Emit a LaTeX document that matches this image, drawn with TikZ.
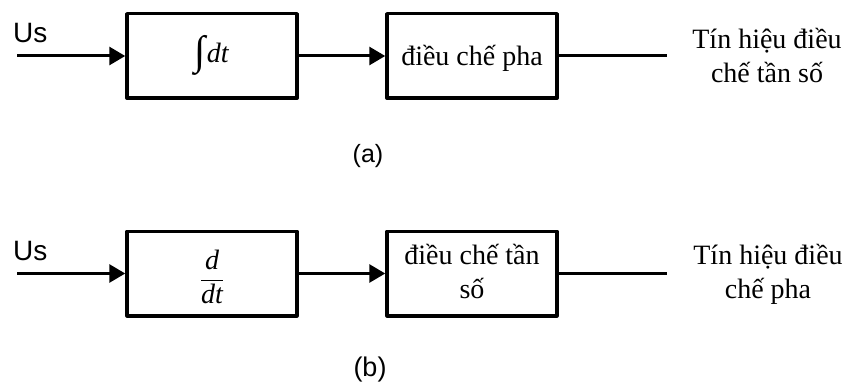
\documentclass[tikz,border=0pt]{standalone}
\usepackage{fontspec}
\usepackage{graphicx}
\setmainfont{Liberation Serif}
\setsansfont{Liberation Sans}
\newfontfamily\intfont{Liberation Serif}
\usetikzlibrary{arrows.meta}

% tall integral sign: 40pt overall, reaching 12pt below the baseline
\newcommand\tallint{\raisebox{-12pt}{\raisebox{\depth}{\resizebox*{!}{40pt}{\intfont ∫}}}}

\tikzset{
  blk/.style={draw, line width=3.5pt, line join=round, minimum width=170pt,
    minimum height=84.5pt, inner sep=0pt, align=center,
    font=\fontsize{28pt}{34pt}\selectfont},
  sig/.style={line width=3pt, -{Triangle[length=16pt,width=18pt]}},
  wire/.style={line width=3pt},
  inlbl/.style={font=\sffamily\fontsize{28pt}{34pt}\selectfont, inner sep=0pt,
    anchor=base west},
  outlbl/.style={font=\fontsize{28pt}{34pt}\selectfont, inner sep=0pt,
    align=center, anchor=base},
  sublbl/.style={font=\sffamily\fontsize{25pt}{30pt}\selectfont, inner sep=0pt,
    anchor=base}
}

\begin{document}
\begin{tikzpicture}[x=1pt,y=-1pt]
\useasboundingbox (0,0) rectangle (846,385);

% ---------- (a) ----------
\node[inlbl] (usA) at (13,43) {Us};
\coordinate (inA) at (17,56);
\node[blk, text height=22pt, text depth=8pt] (intA) at (212,56) {\tallint\kern1pt\textit{dt}};
\node[blk, text height=24pt, text depth=4pt] (pmA) at (472,56) {điều chế pha};
\coordinate (outA) at (667,56);
% base anchor of a two-line label sits on its last line
\node[outlbl] (resA) at (767,83) {Tín hiệu điều\\chế tần số};
\node[sublbl] (labA) at (368,163) {(a)};

\draw[sig] (inA) -- (intA.west);
\draw[sig] (intA.east) -- (pmA.west);
\draw[wire] (pmA.east) -- (outA);

% ---------- (b) ----------
\node[inlbl] (usB) at (13,260) {Us};
\coordinate (inB) at (17,273.5);
\node[blk, text height=30pt, text depth=5pt] (derB) at (212,273.5)
  {$\displaystyle\frac{\hbox{\itshape d}}{\hbox{\itshape dt}}$};
\node[blk, text height=54pt, text depth=5pt] (fmB) at (472,273.5) {điều chế tần\\số};
\coordinate (outB) at (667,273.5);
\node[outlbl] (resB) at (768,298) {Tín hiệu điều\\chế pha};
\node[sublbl, font=\sffamily\fontsize{27pt}{32pt}\selectfont] (labB) at (370,376) {(b)};

\draw[sig] (inB) -- (derB.west);
\draw[sig] (derB.east) -- (fmB.west);
\draw[wire] (fmB.east) -- (outB);
\end{tikzpicture}
\end{document}
